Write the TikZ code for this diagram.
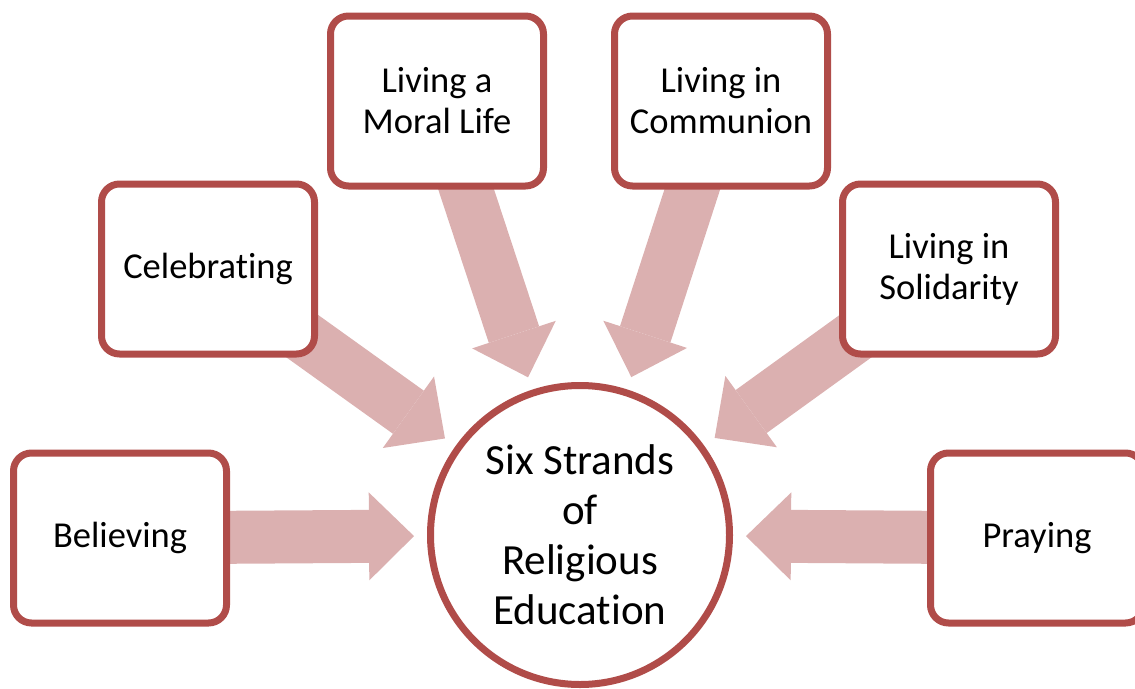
\documentclass[tikz,border=0pt]{standalone}
\usepackage{fontspec}
\setmainfont{Carlito}[Ligatures=NoCommon]
\usetikzlibrary{arrows.meta,shadows,backgrounds}
\definecolor{strandred}{RGB}{176,76,73}
\definecolor{strandpink}{RGB}{219,176,176}

\begin{document}
\begin{tikzpicture}
    [
        x=1pt, y=-1pt,
        strand/.style={rectangle, rounded corners=18pt, draw=strandred, line width=7pt,
            fill=white, minimum width=213pt, minimum height=170pt, align=center,
            font=\fontsize{36.5}{41}\selectfont,
            drop shadow={shadow xshift=2pt, shadow yshift=-2pt, opacity=0.25}},
        centre/.style={circle, draw=strandred, line width=7pt, fill=white,
            minimum size=299pt, inner sep=0pt, align=center,
            font=\fontsize{43}{50}\selectfont},
        flow/.style={draw=strandpink, line width=53pt,
            -{Triangle[length=45pt, width=88pt, line width=0pt, fill=strandpink]},
            shorten >=13pt, shorten <=-30pt},
    ]
    \useasboundingbox (0,0) rectangle (1135,688);
    \node (hub) at (580,535) [centre] {Six Strands\\of\\Religious\\Education};
    \node (believe) at (120,538) [strand] {Believing};
    \node (celebrate) at (208,269) [strand] {Celebrating};
    \node (moral) at (437,101) [strand] {Living a\\Moral Life};
    \node (communion) at (721,101) [strand] {Living in\\Communion};
    \node (solidarity) at (949,269) [strand] {Living in\\Solidarity};
    \node (pray) at (1037,538) [strand] {Praying};
    \begin{scope}[on background layer]
        \draw [flow] (believe) -- (hub);
        \draw [flow] (celebrate) -- (hub);
        \draw [flow] (moral) -- (hub);
        \draw [flow] (communion) -- (hub);
        \draw [flow] (solidarity) -- (hub);
        \draw [flow] (pray) -- (hub);
    \end{scope}
\end{tikzpicture}
\end{document}
